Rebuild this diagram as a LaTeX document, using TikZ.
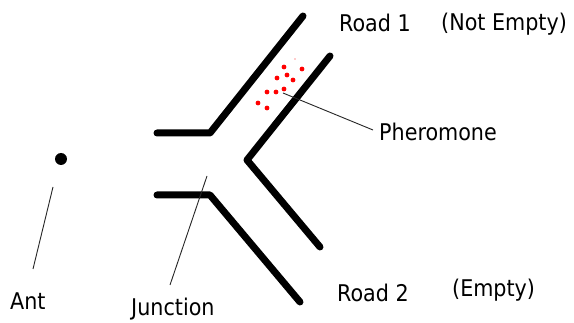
\documentclass[tikz,border=0pt]{standalone}
\usepackage{fontspec}
\setmainfont{DejaVu Sans Condensed}
\begin{document}
\begin{tikzpicture}[x=1pt,y=-1pt,
  wall/.style={line width=7pt,line cap=round,line join=round},
  leader/.style={line width=0.9pt,draw=black!85},
  label/.style={anchor=base west,inner sep=0pt,font=\fontsize{23}{27}\selectfont},
  drop/.style={fill=red,draw=none},
  antdot/.style={fill=black,draw=none}]
\useasboundingbox (0,0) rectangle (574,323);
\fill[white] (0,0) rectangle (574,323);

% road walls
\draw[wall] (157,133) -- (210,133) -- (303,16);
\draw[wall] (330,56) -- (247,160) -- (320,247);
\draw[wall] (157,195) -- (210,195) -- (300,302);

% pheromone trail
\foreach \px/\py in {284/67,302/69,287/75,293/80,277/78,267/92,276/92,284/89,258/103,267/108}
  \fill[drop] (\px,\py) circle (2.4);
\fill[red!40] (295,59) circle (0.8);

% ant
\fill[antdot] (61,159) circle (6);

% labels
\node[label] (road1) at (339,32) {Road 1};
\node[label] (note1) at (441,31) {(Not Empty)};
\node[label] (pher) at (379,141) {Pheromone};
\node[label] (ant) at (10,310) {Ant};
\node[label] (junc) at (131,316) {Junction};
\node[label] (road2) at (337,302) {Road 2};
\node[label] (note2) at (452,297) {(Empty)};

% leader lines
\coordinate (pherpt) at (283,93);
\coordinate (pherend) at (373,130);
\coordinate (antpt) at (53,187);
\coordinate (antend) at (33,269);
\coordinate (juncpt) at (207,176);
\coordinate (juncend) at (170,285);
\draw[leader] (pherpt) -- (pherend);
\draw[leader] (antpt) -- (antend);
\draw[leader] (juncpt) -- (juncend);
\end{tikzpicture}
\end{document}
